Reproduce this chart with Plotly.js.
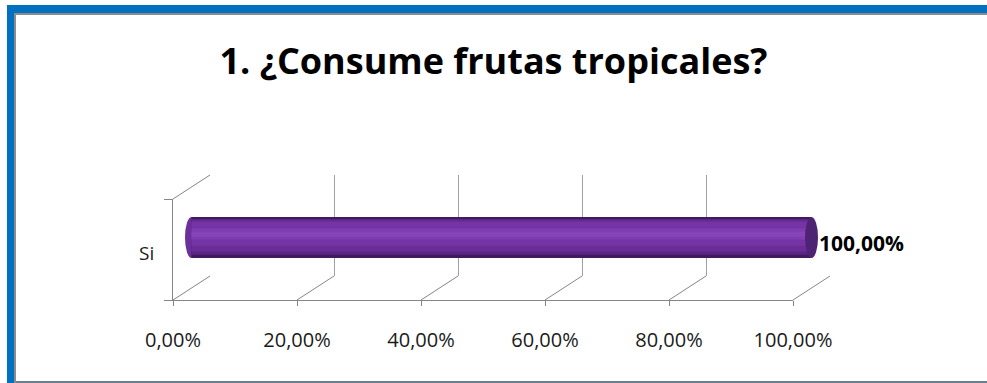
<!DOCTYPE html>
<html>
<head>
<meta charset="utf-8">
<script src="https://cdn.plot.ly/plotly-3.0.1.min.js"></script>
<style>
  html, body { margin: 0; padding: 0; background: #ffffff; }
  #chart { width: 987px; height: 383px; }
</style>
</head>
<body>
<div id="chart"></div>
<script>
// ---- data ----
const categories = ["Si"];
const values = [100];
const tickVals = [0, 20, 40, 60, 80, 100];
const tickText = ["0,00%", "20,00%", "40,00%", "60,00%", "80,00%", "100,00%"];
const titleText = "1. ¿Consume frutas tropicales?";

// ---- geometry (pixels) ----
const W = 987, H = 383;
const frontL = 173, frontR = 793, frontTop = 199, frontBot = 300;
const depthX = 37, depthY = 24;
const pxPerUnit = (frontR - frontL) / 100;
const pad = 3; // extra data units on each side of the bar subplot so the cylinder ends are not clipped
const px = v => v / W;
const py = v => 1 - v / H;
const FONT = "'Open Sans', Calibri, sans-serif";
const gray = "#868686";

const barH = 0.406;             // bar thickness in category units
const capRx = 6.5 / pxPerUnit;  // cap ellipse radius in data units

// vertical shading bands of the cylinder (fraction from bottom, colour)
const bands = [
  [0.00, 1.00, "#3f1a5e"],
  [0.08, 0.95, "#5a2585"],
  [0.16, 0.92, "#6a2d98"],
  [0.30, 0.88, "#7534a6"],
  [0.45, 0.72, "#7f3db2"],
  [0.52, 0.64, "#8644b8"]
];

const traces = [];
bands.forEach(b => {
  traces.push({
    type: "bar", orientation: "h",
    x: values, y: categories,
    xaxis: "x3", yaxis: "y3",
    width: (b[1] - b[0]) * barH,
    offset: -barH / 2 + b[0] * barH,
    marker: { color: b[2], line: { width: 0 } },
    hoverinfo: "skip"
  });
});
// invisible trace for the back-wall subplot
traces.push({ type: "scatter", x: [0], y: [0], xaxis: "x2", yaxis: "y2",
  mode: "markers", marker: { opacity: 0 }, hoverinfo: "skip" });
// invisible trace for the front subplot
traces.push({ type: "scatter", x: [0], y: categories, xaxis: "x", yaxis: "y",
  mode: "markers", marker: { opacity: 0 }, hoverinfo: "skip" });

const shapes = [];
// frame
shapes.push({ type: "rect", xref: "paper", yref: "paper", x0: px(7), x1: px(W), y0: py(5), y1: py(13), fillcolor: "#0070c0", line: { width: 0 }, layer: "above" });
shapes.push({ type: "rect", xref: "paper", yref: "paper", x0: px(7), x1: px(14), y0: py(5), y1: py(H), fillcolor: "#0070c0", line: { width: 0 }, layer: "above" });
shapes.push({ type: "rect", xref: "paper", yref: "paper", x0: px(14), x1: px(W), y0: py(13), y1: py(15), fillcolor: "#8c8c8c", line: { width: 0 }, layer: "above" });
shapes.push({ type: "rect", xref: "paper", yref: "paper", x0: px(14), x1: px(16), y0: py(13), y1: py(H), fillcolor: "#8c8c8c", line: { width: 0 }, layer: "above" });
shapes.push({ type: "rect", xref: "paper", yref: "paper", x0: px(16), x1: px(W), y0: py(381), y1: py(H), fillcolor: "#6a7f8e", line: { width: 0 }, layer: "above" });

// depth diagonals on the floor, from each front tick to the back wall
const dxDom = depthX / (frontR - frontL);
const dyDom = depthY / (frontBot - frontTop);
tickVals.forEach(t => {
  shapes.push({ type: "line", xref: "x domain", yref: "y domain",
    x0: t / 100, y0: 0, x1: t / 100 + dxDom, y1: dyDom,
    line: { color: gray, width: 1 } });
});
// top-left diagonal of the side wall
shapes.push({ type: "line", xref: "x domain", yref: "y domain",
  x0: 0, y0: 1, x1: dxDom, y1: 1 + dyDom, line: { color: gray, width: 1 } });

// cylinder ends
values.forEach((v, i) => {
  shapes.push({ type: "circle", xref: "x3", yref: "y3", layer: "between",
    x0: -capRx, x1: capRx, y0: i - barH / 2, y1: i + barH / 2,
    fillcolor: "#6c2f9c", line: { width: 0 } });
  shapes.push({ type: "circle", xref: "x3", yref: "y3", layer: "above",
    x0: v - capRx, x1: v + capRx, y0: i - barH / 2, y1: i + barH / 2,
    fillcolor: "#4f2373", line: { width: 0 } });
});

const annotations = values.map((v, i) => ({
  xref: "x3", yref: "y3", x: v, y: categories[i],
  text: "<b>" + v.toFixed(2).replace(".", ",") + "%</b>",
  showarrow: false, xanchor: "left", yanchor: "middle",
  xshift: 5, yshift: -5,
  font: { family: FONT, size: 21, color: "#000000" }
}));

const layout = {
  width: W, height: H,
  margin: { l: 0, r: 0, t: 0, b: 0 },
  paper_bgcolor: "#ffffff", plot_bgcolor: "rgba(0,0,0,0)",
  showlegend: false,
  barmode: "overlay",
  title: { text: "<b>" + titleText + "</b>", x: 0.5, xanchor: "center",
    y: py(61), yanchor: "middle", yref: "paper",
    font: { family: FONT, size: 36, color: "#000000" } },
  xaxis: {
    domain: [px(frontL), px(frontR)], range: [0, 100], anchor: "y",
    tickvals: tickVals, ticktext: tickText,
    ticks: "outside", ticklen: 5, tickcolor: gray,
    showline: true, linecolor: gray, linewidth: 1,
    showgrid: false, zeroline: false, fixedrange: true,
    tickfont: { family: FONT, size: 20, color: "#1a1a1a" },
    ticklabelstandoff: 17
  },
  yaxis: {
    domain: [py(frontBot), py(frontTop)], type: "category", range: [-0.5, 0.5], anchor: "x",
    tickson: "boundaries", ticks: "outside", ticklen: 8, tickcolor: gray,
    showline: true, linecolor: gray, linewidth: 1,
    showgrid: false, zeroline: false, fixedrange: true,
    tickfont: { family: FONT, size: 19, color: "#1a1a1a" },
    ticklabelstandoff: 14, ticklabelshift: 4
  },
  xaxis2: {
    domain: [px(frontL + depthX), px(frontR + depthX)], range: [0, 100], anchor: "y2",
    tickvals: tickVals, showticklabels: false, ticks: "",
    showgrid: true, gridcolor: "#a0a0a0", gridwidth: 1,
    showline: false, zeroline: false, fixedrange: true
  },
  yaxis2: {
    domain: [py(frontBot - depthY), py(frontTop - depthY)], range: [0, 1], anchor: "x2",
    showgrid: false, showticklabels: false, ticks: "", showline: false, zeroline: false, fixedrange: true
  },
  xaxis3: {
    domain: [px(frontL + depthX / 2 - pad * pxPerUnit), px(frontR + depthX / 2 + pad * pxPerUnit)],
    range: [-pad, 100 + pad], anchor: "y3",
    showgrid: false, showticklabels: false, ticks: "", showline: false, zeroline: false, fixedrange: true
  },
  yaxis3: {
    domain: [py(frontBot - depthY / 2), py(frontTop - depthY / 2)], type: "category", range: [-0.5, 0.5], anchor: "x3",
    showgrid: false, showticklabels: false, ticks: "", showline: false, zeroline: false, fixedrange: true
  },
  shapes: shapes,
  annotations: annotations
};

Plotly.newPlot("chart", traces, layout, { displayModeBar: false, staticPlot: true });
</script>
</body>
</html>
